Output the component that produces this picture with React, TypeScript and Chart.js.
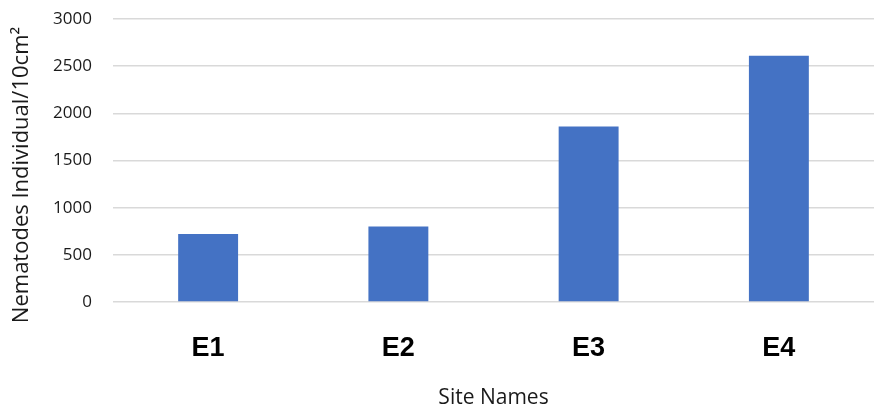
import React, { useEffect, useRef } from "react";
import { Chart, registerables } from "chart.js";

Chart.register(...registerables);

const categories = ["E1", "E2", "E3", "E4"];
const nematodes = [720, 800, 1860, 2610];
const yTicks = [0, 500, 1000, 1500, 2000, 2500, 3000];
const xTitle = "Site Names";
const yTitle = "Nematodes Individual/10cm²";

const yTitlePlugin = {
  id: "yTitlePlugin",
  afterDraw(chart: any) {
    const ctx = chart.ctx;
    ctx.save();
    ctx.translate(22, 175);
    ctx.rotate(-Math.PI / 2);
    ctx.font = "22px 'Open Sans'";
    ctx.fillStyle = "#1a1a1a";
    ctx.textAlign = "center";
    ctx.textBaseline = "middle";
    ctx.fillText(yTitle, 0, 0);
    ctx.restore();
  },
};

export default function App() {
  const ref = useRef<HTMLCanvasElement>(null);
  useEffect(() => {
    document.body.style.margin = "0";
    const chart = new Chart(ref.current!, {
      type: "bar",
      data: {
        labels: categories,
        datasets: [
          {
            data: nematodes,
            backgroundColor: "#4472C4",
            borderWidth: 0,
            categoryPercentage: 0.315,
            barPercentage: 1,
          },
        ],
      },
      options: {
        responsive: false,
        animation: false,
        devicePixelRatio: 1,
        layout: { padding: { top: 19, right: 0, left: 0, bottom: 0 } },
        plugins: { legend: { display: false }, tooltip: { enabled: false } },
        scales: {
          x: {
            afterFit: (s: any) => {
              s.height = 109;
              s.paddingLeft = 0;
              s.paddingRight = 0;
            },
            grid: { display: false, drawTicks: false },
            border: { display: false },
            ticks: {
              padding: 30,
              color: "#000",
              font: { family: "'Liberation Sans Narrow', 'Liberation Sans', Arial", size: 27, weight: "bold" },
            },
            title: {
              display: true,
              text: xTitle,
              color: "#1a1a1a",
              font: { family: "'Open Sans'", size: 21 },
              padding: { top: 0, bottom: 0 },
            },
          },
          y: {
            min: 0,
            max: 3000,
            afterFit: (s: any) => {
              s.width = 113;
              s.paddingTop = 0;
              s.paddingBottom = 0;
            },
            afterBuildTicks: (s: any) => {
              s.ticks = yTicks.map((v) => ({ value: v }));
            },
            grid: { color: "#d9d9d9", lineWidth: 1.5, drawTicks: false },
            border: { display: false },
            ticks: {
              padding: 21,
              color: "#1a1a1a",
              font: { family: "'Open Sans'", size: 17 },
              callback: (v: any) => String(v),
            },
          },
        },
      },
      plugins: [yTitlePlugin],
    });
    return () => chart.destroy();
  }, []);
  return <canvas ref={ref} width={874} height={411} style={{ display: "block", width: 874, height: 411 }} />;
}
